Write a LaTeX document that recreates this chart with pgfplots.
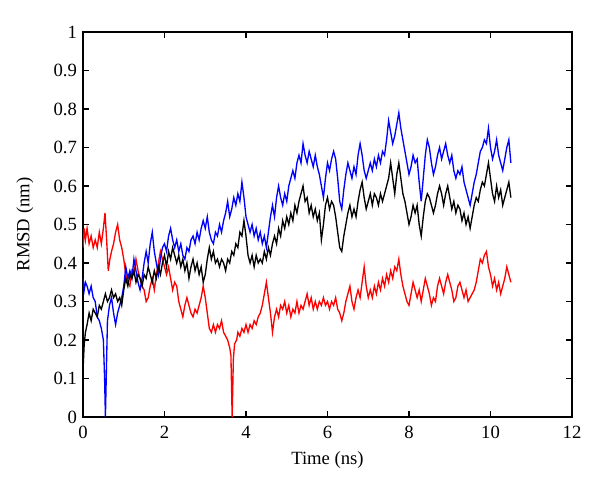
\documentclass[border=0pt]{standalone}
\usepackage{pgfplots}
\pgfplotsset{compat=1.18}
\usetikzlibrary{calc}
\usepackage{fontspec}
\setmainfont{Liberation Serif}
\pgfplotstableread{
t y
0 0.12
0.03 0.19
0.06 0.22
0.1 0.24
0.15 0.27
0.2 0.25
0.25 0.28
0.3 0.27
0.35 0.26
0.4 0.29
0.45 0.28
0.5 0.30
0.55 0.32
0.6 0.30
0.65 0.31
0.7 0.33
0.75 0.31
0.8 0.32
0.85 0.30
0.9 0.31
0.95 0.29
1.0 0.33
1.05 0.36
1.1 0.34
1.15 0.37
1.2 0.36
1.25 0.38
1.3 0.35
1.35 0.37
1.4 0.36
1.45 0.34
1.5 0.37
1.55 0.36
1.6 0.39
1.65 0.37
1.7 0.35
1.75 0.38
1.8 0.36
1.85 0.39
1.9 0.37
1.95 0.40
2.0 0.42
2.05 0.39
2.1 0.43
2.15 0.41
2.2 0.44
2.25 0.42
2.3 0.40
2.35 0.42
2.4 0.39
2.45 0.41
2.5 0.38
2.55 0.40
2.6 0.36
2.65 0.39
2.7 0.41
2.75 0.38
2.8 0.40
2.85 0.37
2.9 0.39
2.95 0.35
3.0 0.37
3.05 0.41
3.1 0.44
3.15 0.41
3.2 0.43
3.25 0.40
3.3 0.41
3.35 0.39
3.4 0.41
3.45 0.40
3.5 0.38
3.55 0.41
3.6 0.40
3.65 0.43
3.7 0.42
3.75 0.45
3.8 0.44
3.85 0.48
3.9 0.47
3.95 0.51
4.0 0.47
4.05 0.42
4.1 0.40
4.15 0.42
4.2 0.39
4.25 0.42
4.3 0.40
4.35 0.41
4.4 0.40
4.45 0.43
4.5 0.41
4.55 0.44
4.6 0.42
4.65 0.45
4.7 0.47
4.75 0.45
4.8 0.49
4.85 0.47
4.9 0.51
4.95 0.49
5.0 0.52
5.05 0.50
5.1 0.53
5.15 0.51
5.2 0.55
5.25 0.53
5.3 0.56
5.35 0.58
5.4 0.60
5.45 0.56
5.5 0.57
5.55 0.53
5.6 0.55
5.65 0.52
5.7 0.54
5.75 0.51
5.8 0.53
5.85 0.46
5.9 0.50
5.95 0.55
6.0 0.57
6.05 0.54
6.1 0.56
6.15 0.55
6.2 0.52
6.25 0.48
6.3 0.44
6.35 0.43
6.4 0.47
6.45 0.50
6.5 0.53
6.55 0.55
6.6 0.52
6.65 0.54
6.7 0.52
6.75 0.56
6.8 0.59
6.85 0.61
6.9 0.57
6.95 0.54
7.0 0.56
7.05 0.58
7.1 0.55
7.15 0.58
7.2 0.57
7.25 0.55
7.3 0.58
7.35 0.56
7.4 0.58
7.45 0.60
7.5 0.62
7.55 0.66
7.6 0.62
7.65 0.58
7.7 0.63
7.75 0.66
7.8 0.62
7.85 0.58
7.9 0.56
7.95 0.53
8.0 0.50
8.05 0.52
8.1 0.55
8.15 0.53
8.2 0.55
8.25 0.50
8.3 0.47
8.35 0.52
8.4 0.56
8.45 0.58
8.5 0.57
8.55 0.55
8.6 0.53
8.65 0.55
8.7 0.58
8.75 0.60
8.8 0.58
8.85 0.55
8.9 0.58
8.95 0.60
9.0 0.57
9.05 0.54
9.1 0.56
9.15 0.53
9.2 0.55
9.25 0.54
9.3 0.51
9.35 0.53
9.4 0.50
9.45 0.52
9.5 0.49
9.55 0.52
9.6 0.55
9.65 0.57
9.7 0.56
9.75 0.59
9.8 0.61
9.85 0.60
9.9 0.63
9.95 0.66
10.0 0.62
10.05 0.58
10.1 0.56
10.15 0.60
10.2 0.57
10.25 0.59
10.3 0.55
10.35 0.57
10.4 0.59
10.45 0.61
10.5 0.57
}\blackdata
\pgfplotstableread{
t y
0 0.36
0.03 0.33
0.06 0.35
0.1 0.34
0.15 0.32
0.2 0.34
0.25 0.31
0.3 0.30
0.35 0.26
0.4 0.25
0.45 0.23
0.5 0.20
0.53 0.10
0.55 0.0
0.57 0.10
0.6 0.25
0.65 0.29
0.7 0.31
0.75 0.27
0.8 0.24
0.85 0.27
0.9 0.29
0.95 0.31
1.0 0.34
1.05 0.39
1.1 0.36
1.15 0.38
1.2 0.36
1.25 0.41
1.3 0.38
1.35 0.35
1.4 0.33
1.45 0.36
1.5 0.40
1.55 0.43
1.6 0.40
1.65 0.45
1.7 0.48
1.75 0.43
1.8 0.40
1.85 0.37
1.9 0.41
1.95 0.44
2.0 0.45
2.05 0.43
2.1 0.47
2.15 0.49
2.2 0.46
2.25 0.44
2.3 0.46
2.35 0.43
2.4 0.45
2.45 0.42
2.5 0.41
2.55 0.44
2.6 0.43
2.65 0.46
2.7 0.47
2.75 0.45
2.8 0.48
2.85 0.46
2.9 0.49
2.95 0.51
3.0 0.49
3.05 0.52
3.1 0.48
3.15 0.46
3.2 0.45
3.25 0.48
3.3 0.47
3.35 0.50
3.4 0.48
3.45 0.51
3.5 0.53
3.55 0.56
3.6 0.52
3.65 0.54
3.7 0.57
3.75 0.55
3.8 0.58
3.85 0.56
3.9 0.61
3.95 0.57
4.0 0.52
4.05 0.50
4.1 0.48
4.15 0.50
4.2 0.47
4.25 0.49
4.3 0.46
4.35 0.48
4.4 0.45
4.45 0.47
4.5 0.44
4.55 0.48
4.6 0.52
4.65 0.55
4.7 0.52
4.75 0.57
4.8 0.60
4.85 0.57
4.9 0.55
4.95 0.58
5.0 0.56
5.05 0.60
5.1 0.62
5.15 0.64
5.2 0.62
5.25 0.66
5.3 0.68
5.35 0.66
5.4 0.71
5.45 0.68
5.5 0.66
5.55 0.69
5.6 0.67
5.65 0.65
5.7 0.68
5.75 0.65
5.8 0.63
5.85 0.60
5.9 0.57
5.95 0.62
6.0 0.66
6.05 0.64
6.1 0.67
6.15 0.69
6.2 0.67
6.25 0.62
6.3 0.56
6.35 0.54
6.4 0.59
6.45 0.63
6.5 0.66
6.55 0.64
6.6 0.62
6.65 0.65
6.7 0.63
6.75 0.68
6.8 0.71
6.85 0.68
6.9 0.64
6.95 0.62
7.0 0.64
7.05 0.66
7.1 0.64
7.15 0.67
7.2 0.65
7.25 0.68
7.3 0.66
7.35 0.69
7.4 0.68
7.45 0.72
7.5 0.77
7.55 0.74
7.6 0.71
7.65 0.73
7.7 0.76
7.75 0.79
7.8 0.75
7.85 0.72
7.9 0.69
7.95 0.66
8.0 0.63
8.05 0.65
8.1 0.68
8.15 0.66
8.2 0.67
8.25 0.61
8.3 0.56
8.35 0.62
8.4 0.68
8.45 0.72
8.5 0.70
8.55 0.66
8.6 0.63
8.65 0.65
8.7 0.68
8.75 0.70
8.8 0.67
8.85 0.69
8.9 0.71
8.95 0.68
9.0 0.66
9.05 0.68
9.1 0.64
9.15 0.62
9.2 0.64
9.25 0.63
9.3 0.65
9.35 0.61
9.4 0.59
9.45 0.57
9.5 0.55
9.55 0.58
9.6 0.61
9.65 0.63
9.7 0.66
9.75 0.69
9.8 0.70
9.85 0.72
9.9 0.71
9.95 0.75
10.0 0.70
10.05 0.67
10.1 0.69
10.15 0.72
10.2 0.68
10.25 0.66
10.3 0.64
10.35 0.67
10.4 0.70
10.45 0.72
10.5 0.66
}\bluedata
\pgfplotstableread{
t y
0 0.44
0.03 0.49
0.06 0.46
0.1 0.49
0.15 0.45
0.2 0.47
0.25 0.44
0.3 0.46
0.35 0.44
0.4 0.48
0.45 0.45
0.5 0.49
0.54 0.53
0.58 0.46
0.62 0.38
0.66 0.41
0.7 0.43
0.75 0.45
0.8 0.48
0.85 0.50
0.9 0.46
0.95 0.44
1.0 0.41
1.05 0.37
1.1 0.35
1.15 0.34
1.2 0.38
1.25 0.37
1.3 0.41
1.35 0.38
1.4 0.36
1.45 0.34
1.5 0.33
1.55 0.30
1.6 0.31
1.65 0.34
1.7 0.36
1.75 0.33
1.8 0.37
1.85 0.40
1.9 0.43
1.95 0.41
2.0 0.39
2.05 0.37
2.1 0.39
2.15 0.36
2.2 0.33
2.25 0.35
2.3 0.34
2.35 0.30
2.4 0.28
2.45 0.26
2.5 0.29
2.55 0.31
2.6 0.29
2.65 0.27
2.7 0.26
2.75 0.28
2.8 0.27
2.85 0.29
2.9 0.31
2.95 0.34
3.0 0.31
3.05 0.27
3.1 0.23
3.15 0.22
3.2 0.24
3.25 0.22
3.3 0.24
3.35 0.23
3.4 0.25
3.45 0.22
3.5 0.21
3.55 0.20
3.6 0.18
3.63 0.16
3.66 0.0
3.69 0.15
3.72 0.19
3.77 0.20
3.8 0.22
3.85 0.21
3.9 0.23
3.95 0.22
4.0 0.24
4.05 0.22
4.1 0.24
4.15 0.23
4.2 0.25
4.25 0.24
4.3 0.26
4.35 0.27
4.4 0.29
4.45 0.32
4.5 0.35
4.55 0.31
4.6 0.27
4.65 0.22
4.7 0.26
4.75 0.28
4.8 0.26
4.85 0.29
4.9 0.28
4.95 0.30
5.0 0.27
5.05 0.29
5.1 0.26
5.15 0.28
5.2 0.27
5.25 0.30
5.3 0.27
5.35 0.29
5.4 0.28
5.45 0.30
5.5 0.32
5.55 0.29
5.6 0.31
5.65 0.28
5.7 0.30
5.75 0.28
5.8 0.30
5.85 0.29
5.9 0.31
5.95 0.29
6.0 0.30
6.05 0.28
6.1 0.30
6.15 0.29
6.2 0.31
6.25 0.28
6.3 0.27
6.35 0.25
6.4 0.27
6.45 0.30
6.5 0.32
6.55 0.34
6.6 0.30
6.65 0.28
6.7 0.31
6.75 0.33
6.8 0.31
6.85 0.35
6.9 0.39
6.95 0.34
7.0 0.31
7.05 0.33
7.1 0.31
7.15 0.34
7.2 0.32
7.25 0.35
7.3 0.33
7.35 0.36
7.4 0.34
7.45 0.37
7.5 0.35
7.55 0.38
7.6 0.36
7.65 0.39
7.7 0.38
7.75 0.41
7.8 0.37
7.85 0.34
7.9 0.32
7.95 0.30
8.0 0.29
8.05 0.32
8.1 0.35
8.15 0.33
8.2 0.31
8.25 0.33
8.3 0.30
8.35 0.33
8.4 0.36
8.45 0.34
8.5 0.32
8.55 0.29
8.6 0.31
8.65 0.30
8.7 0.34
8.75 0.36
8.8 0.34
8.85 0.32
8.9 0.35
8.95 0.37
9.0 0.35
9.05 0.33
9.1 0.30
9.15 0.31
9.2 0.34
9.25 0.35
9.3 0.33
9.35 0.31
9.4 0.33
9.45 0.30
9.5 0.31
9.55 0.32
9.6 0.33
9.65 0.35
9.7 0.38
9.75 0.41
9.8 0.40
9.85 0.42
9.9 0.43
9.95 0.39
10.0 0.37
10.05 0.34
10.1 0.36
10.15 0.33
10.2 0.35
10.25 0.32
10.3 0.34
10.35 0.36
10.4 0.39
10.45 0.37
10.5 0.35
}\reddata
\begin{document}
\begin{tikzpicture}[x=0.75pt,y=0.75pt]
\begin{axis}[
  name=ax,
  scale only axis,
  width=366.75pt, height=288.75pt,
  xmin=0, xmax=12, ymin=0, ymax=1,
  xtick={0,2,...,12},
  ytick={0,0.1,...,1.0},
  yticklabels={0,0.1,0.2,0.3,0.4,0.5,0.6,0.7,0.8,0.9,1},
  tick align=inside,
  major tick length=4.5pt,
  minor tick num=0,
  axis line style={line width=0.8pt},
  tick style={line width=0.8pt, black},
  /pgf/number format/assume math mode=true,
  tick label style={font=\fontsize{14}{16}\selectfont},
  label style={font=\fontsize{14}{16}\selectfont},
  xlabel={Time (ns)},
  ylabel={RMSD (nm)},
  xlabel style={at={(axis description cs:0.5,-0.112)}, anchor=center},
  ylabel style={at={(axis description cs:-0.1186,0.5)}, anchor=center, rotate=0},
  yticklabel style={xshift=-1pt},
  xticklabel style={yshift=-3pt},
  clip=true,
]
\addplot[red, line width=1pt] table[x=t,y=y] {\reddata};
\addplot[blue, line width=1pt] table[x=t,y=y] {\bluedata};
\addplot[black, line width=1pt] table[x=t,y=y] {\blackdata};
\end{axis}
\path[use as bounding box] ($(ax.south west)+(-83,-77)$) rectangle ($(ax.north east)+(28,32)$);
\end{tikzpicture}
\end{document}
